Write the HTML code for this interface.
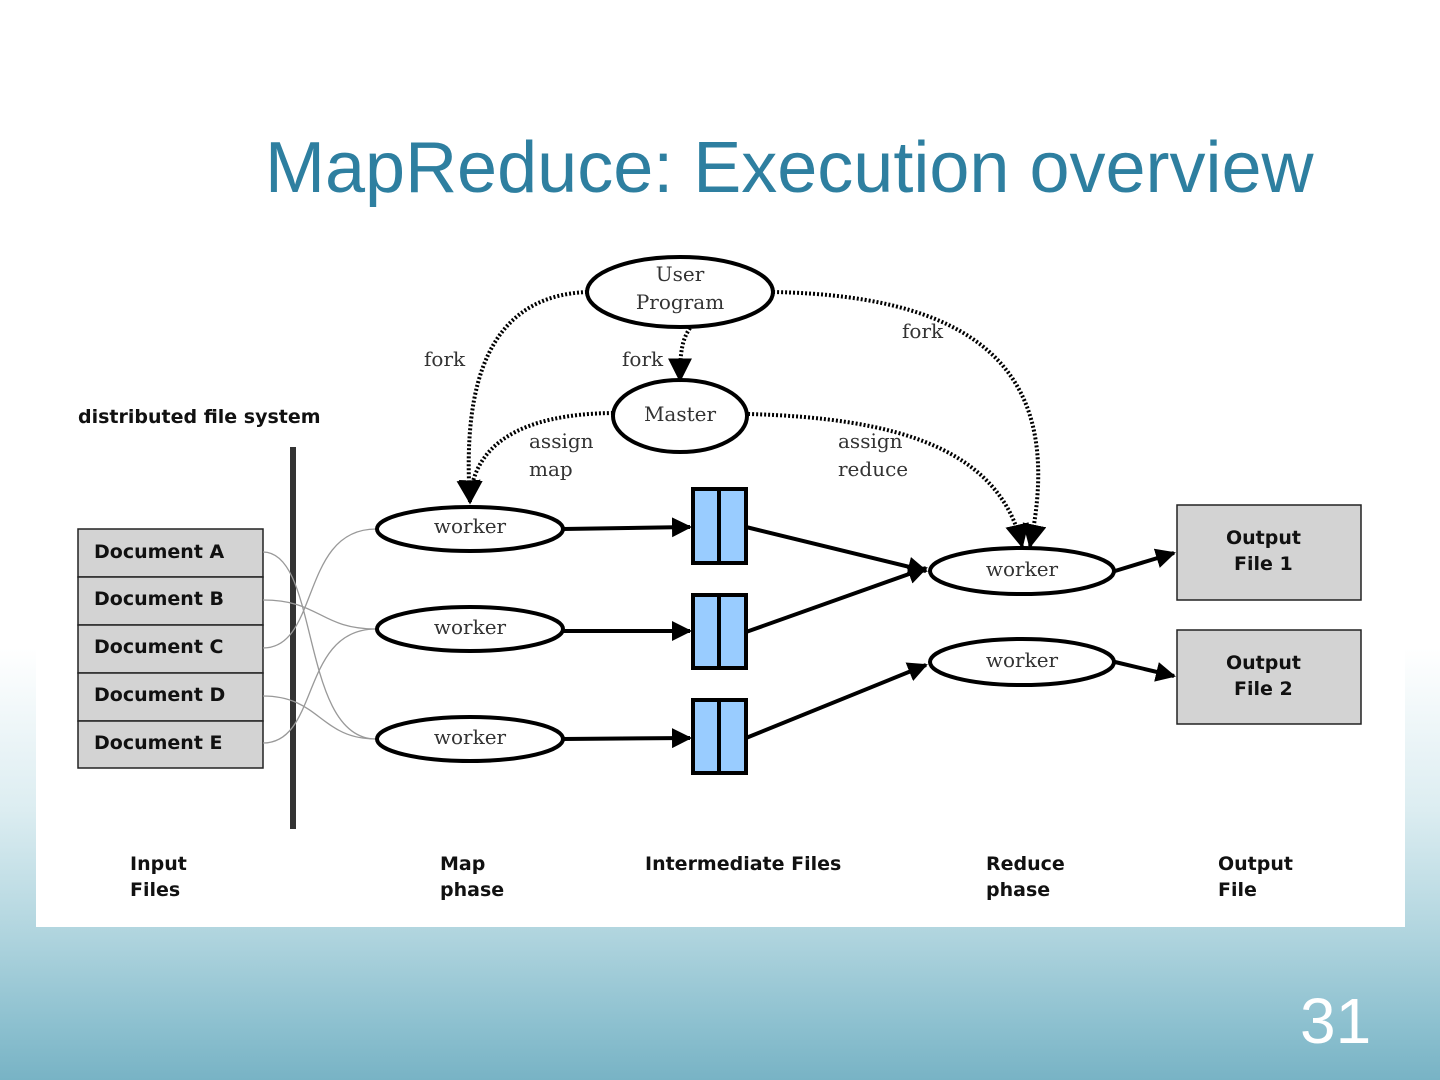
<!DOCTYPE html>
<html><head><meta charset="utf-8"><style>
html,body{margin:0;padding:0;width:1440px;height:1080px;overflow:hidden}
body{background:linear-gradient(180deg,#ffffff 0%,#ffffff 60%,#dcedf1 75%,#b6d8e1 85%,#8cc0cf 95%,#78b3c5 100%);position:relative;font-family:"Liberation Sans",sans-serif}
svg{position:absolute;left:0;top:0}
</style></head><body>
<svg width="1440" height="1080" viewBox="0 0 1440 1080" xmlns="http://www.w3.org/2000/svg">
<defs>
<marker id="a" viewBox="0 0 10 10" refX="9" refY="5" markerWidth="5" markerHeight="5" orient="auto"><path d="M0,0 L10,5 L0,10z" fill="#000"/></marker>
<marker id="b" viewBox="0 0 10 10" refX="9" refY="5" markerWidth="6" markerHeight="6" orient="auto"><path d="M0,0 L10,5 L0,10z" fill="#000"/></marker>
</defs>
<text x="265" y="192" font-size="72" fill="#2e7fa0" font-family="Liberation Sans,sans-serif">MapReduce: Execution overview</text>
<text x="1300" y="1043" font-size="64" fill="#ffffff" font-family="Liberation Sans,sans-serif">31</text>
<rect x="36" y="231" width="1369" height="696" fill="#fff"/>
<g font-family="DejaVu Sans,sans-serif" font-weight="bold" font-size="19" fill="#111">
<text x="78" y="423">distributed file system</text>
<text x="130" y="870">Input</text><text x="130" y="896">Files</text>
<text x="440" y="870">Map</text><text x="440" y="896">phase</text>
<text x="645" y="870">Intermediate Files</text>
<text x="986" y="870">Reduce</text><text x="986" y="896">phase</text>
<text x="1218" y="870">Output</text><text x="1218" y="896">File</text>
</g>
<g stroke="#222" stroke-width="1.5" fill="#d3d3d3">
<rect x="78" y="529" width="185" height="48"/><rect x="78" y="577" width="185" height="48"/><rect x="78" y="625" width="185" height="48"/><rect x="78" y="673" width="185" height="48"/><rect x="78" y="721" width="185" height="47"/>
<rect x="1177" y="505" width="184" height="95"/><rect x="1177" y="630" width="184" height="94"/>
</g>
<g font-family="DejaVu Sans,sans-serif" font-weight="bold" font-size="19" fill="#111">
<text x="94" y="558">Document A</text><text x="94" y="605">Document B</text><text x="94" y="653">Document C</text><text x="94" y="701">Document D</text><text x="94" y="749">Document E</text>
<text x="1226" y="544">Output</text><text x="1234" y="570">File 1</text>
<text x="1226" y="669">Output</text><text x="1234" y="695">File 2</text>
</g>
<rect x="290" y="447" width="6" height="382" fill="#333"/>
<g stroke="#999" stroke-width="1.3" fill="none">
<path d="M263,552 C320,552 300,739 376,739"/>
<path d="M263,600 C320,600 320,629 376,629"/>
<path d="M263,648 C320,648 300,529 376,529"/>
<path d="M263,696 C320,696 320,739 376,739"/>
<path d="M263,743 C320,743 300,629 376,629"/>
</g>
<g stroke="#000" stroke-width="4" fill="#fff">
<ellipse cx="680" cy="292" rx="93" ry="35"/>
<ellipse cx="680" cy="416" rx="67" ry="36"/>
<ellipse cx="470" cy="529" rx="93" ry="22"/>
<ellipse cx="470" cy="629" rx="93" ry="22"/>
<ellipse cx="470" cy="739" rx="93" ry="22"/>
<ellipse cx="1022" cy="571" rx="92" ry="23"/>
<ellipse cx="1022" cy="662" rx="92" ry="23"/>
</g>
<g stroke="#000" stroke-width="4" fill="#99ccff">
<rect x="693" y="489" width="53" height="74"/><line x1="719" y1="489" x2="719" y2="563"/>
<rect x="693" y="595" width="53" height="73"/><line x1="719" y1="595" x2="719" y2="668"/>
<rect x="693" y="700" width="53" height="73"/><line x1="719" y1="700" x2="719" y2="773"/>
</g>
<g font-family="DejaVu Serif,Liberation Serif,serif" font-size="20" fill="#333" text-anchor="middle">
<text x="680" y="281">User</text><text x="680" y="309">Program</text>
<text x="680" y="421">Master</text>
<text x="470" y="533">worker</text><text x="470" y="634">worker</text><text x="470" y="744">worker</text>
<text x="1022" y="576">worker</text><text x="1022" y="667">worker</text>
</g>
<g font-family="DejaVu Serif,Liberation Serif,serif" font-size="20" fill="#333">
<text x="424" y="366">fork</text><text x="622" y="366">fork</text><text x="902" y="338">fork</text>
<text x="529" y="448">assign</text><text x="529" y="476">map</text>
<text x="838" y="448">assign</text><text x="838" y="476">reduce</text>
</g>
<g stroke="#000" stroke-width="4" fill="none" marker-end="url(#a)">
<line x1="563" y1="529" x2="690" y2="527"/>
<line x1="563" y1="631" x2="690" y2="631"/>
<line x1="563" y1="739" x2="690" y2="738"/>
<line x1="746" y1="527" x2="926" y2="571"/>
<line x1="746" y1="632" x2="926" y2="568"/>
<line x1="746" y1="738" x2="926" y2="665"/>
<line x1="1115" y1="571" x2="1174" y2="553"/>
<line x1="1115" y1="662" x2="1174" y2="676"/>
</g>
<g stroke="#000" stroke-width="4" stroke-dasharray="2,2" fill="none" marker-end="url(#b)">
<path d="M587,292 C490,296 462,380 470,502"/>
<path d="M773,292 C990,296 1065,380 1030,546"/>
<path d="M690,328 C682,340 680,352 680,380"/>
<path d="M613,413 C520,414 472,445 470,502"/>
<path d="M748,414 C900,418 1000,450 1022,546"/>
</g>
</svg>
</body></html>
